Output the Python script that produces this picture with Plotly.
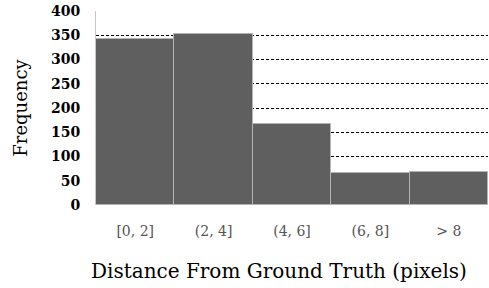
import plotly.graph_objects as go

categories = ["[0, 2]", "(2, 4]", "(4, 6]", "(6, 8]", "> 8"]
frequency = [342, 352, 167, 66, 69]
y_ticks = [0, 50, 100, 150, 200, 250, 300, 350, 400]
x_title = "Distance From Ground Truth (pixels)"

fig = go.Figure(go.Bar(
    x=categories, y=frequency,
    marker=dict(color="#5f5f5f", line=dict(color="#b4b4b4", width=1)),
))

fig.update_layout(
    width=489, height=288,
    margin=dict(l=96, r=1, t=11, b=83),
    plot_bgcolor="white", paper_bgcolor="white",
    bargap=0, showlegend=False,
    font=dict(family="DejaVu Serif", color="black"),
    annotations=[dict(
        text=x_title, xref="paper", yref="paper",
        x=0.467, y=-0.34, xanchor="center", yanchor="middle",
        showarrow=False, font=dict(size=20, color="black"),
    )],
)
fig.update_xaxes(
    tickfont=dict(size=14, color="#555555"),
    showgrid=False, showline=False, ticks="", ticklabelstandoff=16,
    automargin=False,
)
fig.update_yaxes(
    title=dict(text="Frequency", font=dict(size=18, color="black"), standoff=18),
    range=[0, 400], tickvals=y_ticks,
    tickfont=dict(size=14, color="black", weight="bold"),
    showgrid=True, gridcolor="black", griddash="3px,2px", gridwidth=1,
    showline=True, linecolor="#c8c8c8", linewidth=1,
    zeroline=False, ticks="", ticklabelstandoff=12,
    automargin=False,
)
fig.write_html("out.html", config={"displayModeBar": False},
               post_script="document.body.style.margin='0';")
